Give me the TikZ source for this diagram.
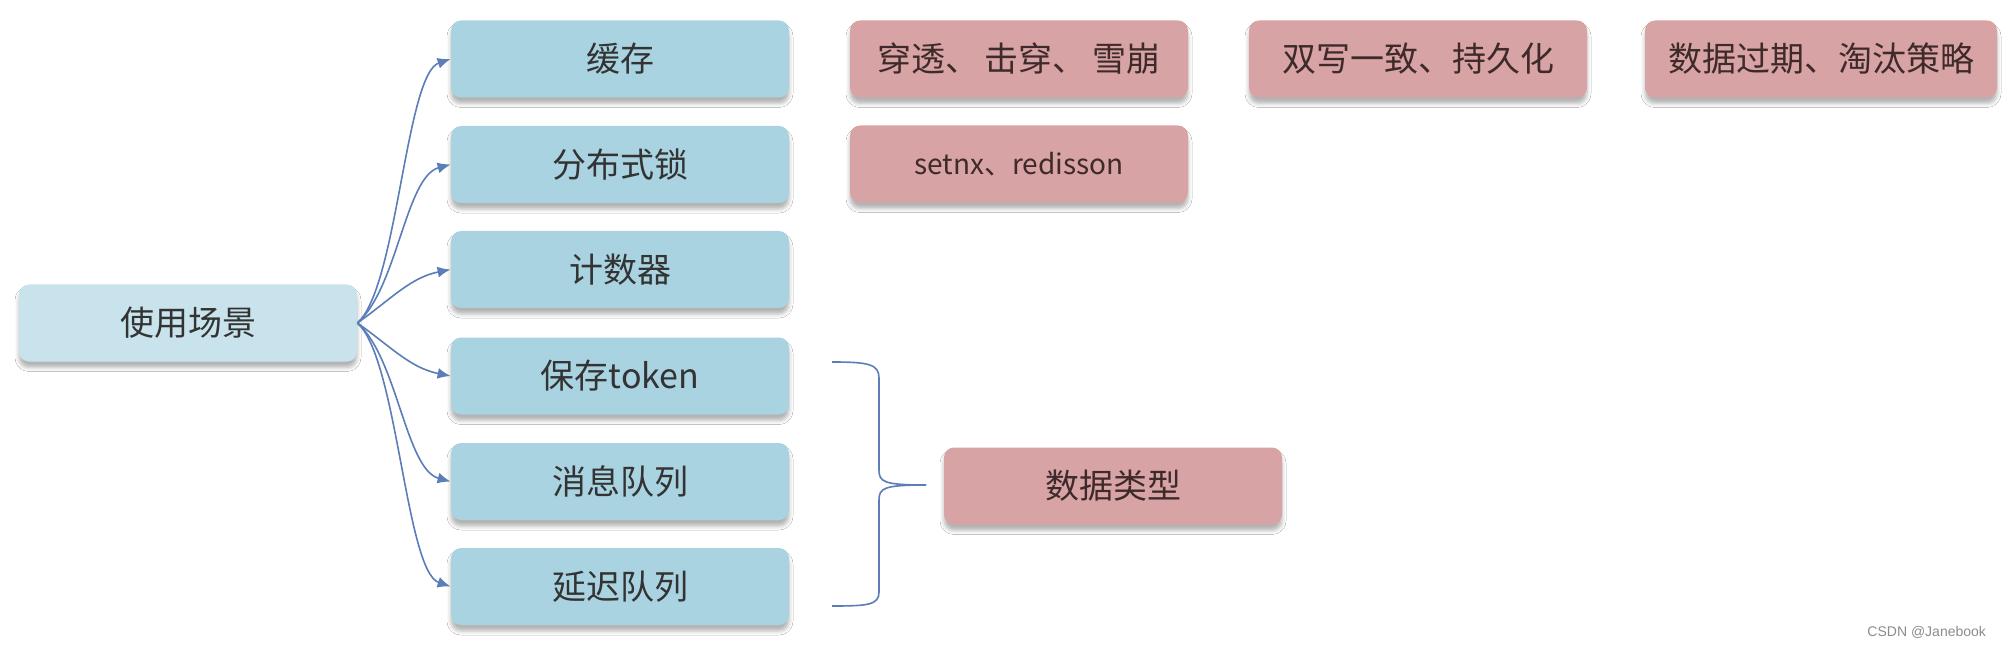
\documentclass[tikz,border=0pt]{standalone}
\usepackage{fontspec}
\newfontfamily\cjk{Noto Sans CJK SC}
\newfontfamily\lsans{Liberation Sans}
\usetikzlibrary{arrows.meta,shadows.blur}
\definecolor{rootfill}{HTML}{C8E3EC}
\definecolor{bluefill}{HTML}{A9D3E1}
\definecolor{redfill}{HTML}{D8A3A4}
\definecolor{arrowc}{HTML}{5B7DB8}
\definecolor{txt}{HTML}{333333}
\definecolor{redtxt}{HTML}{3E2A2A}
\begin{document}
\begin{tikzpicture}[x=0.5pt,y=-0.5pt,
 box/.style={rounded corners=5pt, minimum height=38.5pt, inner sep=0pt,
   font=\cjk\fontsize{17}{20}\selectfont,
   blur shadow={shadow xshift=0pt, shadow yshift=-3pt, shadow blur radius=2pt, shadow opacity=30}},
 bluebox/.style={box, fill=bluefill, text=txt, minimum width=169pt},
 rootbox/.style={box, fill=rootfill, text=txt, minimum width=169pt},
 redbox/.style={box, fill=redfill, text=redtxt, minimum width=169pt},
 link/.style={draw=arrowc, line width=0.8pt, -{Latex[length=6.5pt,width=5.5pt]}},
 bracestyle/.style={draw=arrowc, line width=0.8pt},
]
\useasboundingbox (0,0) rectangle (2008,652);
\fill[white] (0,0) rectangle (2008,652);

\node[rootbox] (root) at (188,323) {使用场景};
\node[bluebox] (cache) at (620,59) {缓存};
\node[bluebox] (lock) at (620,164.5) {分布式锁};
\node[bluebox] (counter) at (620,269.5) {计数器};
\node[bluebox] (token) at (620,376) {保存token};
\node[bluebox] (mq) at (620,481.5) {消息队列};
\node[bluebox] (delay) at (620,586.5) {延迟队列};

\node[redbox] (pen) at (1019,59) {穿透、\hspace{3pt}击穿、\hspace{3pt}雪崩};
\node[redbox] (dw) at (1418,59) {双写一致、持久化};
\node[redbox, minimum width=176pt] (exp) at (1821,59) {数据过期、淘汰策略};
\node[redbox, font=\cjk\fontsize{14}{17}\selectfont] (setnx) at (1019,164) {setnx、redisson};
\node[redbox] (dtype) at (1113,486) {数据类型};

\draw[link] (root.east) .. controls +(40,-35) and +(-45,15) .. (cache.west);
\draw[link] (root.east) .. controls +(40,-35) and +(-45,12) .. (lock.west);
\draw[link] (root.east) .. controls +(35,-25) and +(-40,8) .. (counter.west);
\draw[link] (root.east) .. controls +(35,25) and +(-40,-8) .. (token.west);
\draw[link] (root.east) .. controls +(40,35) and +(-45,-12) .. (mq.west);
\draw[link] (root.east) .. controls +(40,35) and +(-45,-15) .. (delay.west);

\coordinate (btop) at (832,362);
\coordinate (btip) at (926,485);
\coordinate (bbot) at (832,606);
\draw[bracestyle] (btop) .. controls (868,362) and (879,364) .. (879,378)
  -- (879,470) .. controls (879,482) and (884,485) .. (btip);
\draw[bracestyle] (btip) .. controls (884,485) and (879,488) .. (879,500)
  -- (879,592) .. controls (879,605) and (868,606) .. (bbot);

\node[font=\lsans\fontsize{7}{8}\selectfont, text=black!45, anchor=base east] (csdn) at (1993,636) {CSDN @Janebook};
\end{tikzpicture}
\end{document}
